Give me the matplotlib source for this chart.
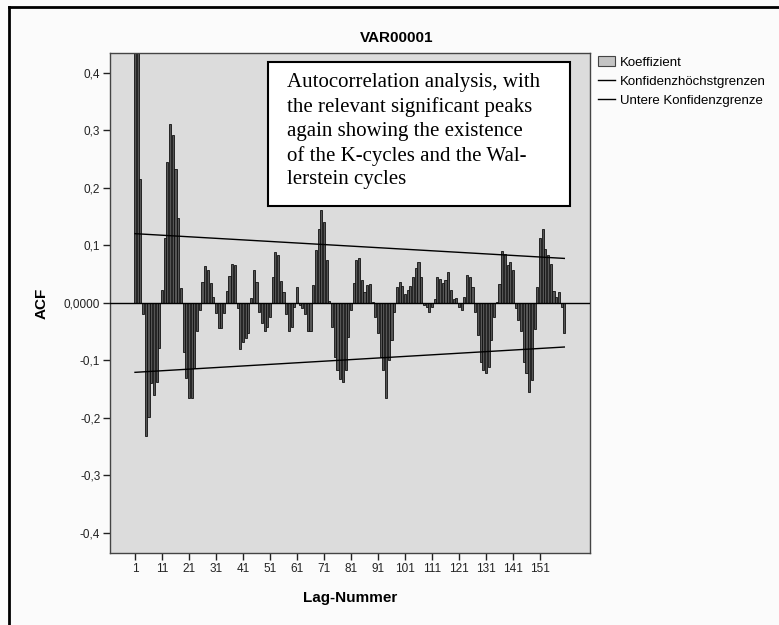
import matplotlib
matplotlib.use("Agg")
import matplotlib.pyplot as plt
from matplotlib.patches import Rectangle, Patch
from matplotlib.lines import Line2D

# ACF-Werte, Lag 1..160
acf = [0.80, 0.55, 0.215, -0.02, -0.232, -0.198, -0.140, -0.160, -0.137, -0.078,
       0.022, 0.112, 0.245, 0.310, 0.292, 0.232, 0.147, 0.026, -0.085, -0.130,
       -0.165, -0.165, -0.114, -0.050, -0.013, 0.036, 0.063, 0.056, 0.035, 0.010,
       -0.018, -0.044, -0.044, -0.018, 0.020, 0.047, 0.067, 0.066, -0.010, -0.080,
       -0.068, -0.062, -0.053, 0.008, 0.056, 0.036, -0.016, -0.036, -0.050, -0.042,
       -0.024, 0.045, 0.089, 0.083, 0.037, 0.019, -0.019, -0.050, -0.042, -0.007,
       0.028, -0.004, -0.010, -0.019, -0.050, -0.050, 0.031, 0.092, 0.128, 0.161,
       0.141, 0.074, 0.003, -0.042, -0.094, -0.117, -0.132, -0.137, -0.117, -0.059,
       -0.013, 0.034, 0.074, 0.077, 0.039, 0.019, 0.031, 0.032, 0.002, -0.024,
       -0.053, -0.094, -0.117, -0.165, -0.100, -0.065, -0.017, 0.028, 0.036, 0.029,
       0.015, 0.022, 0.029, 0.045, 0.061, 0.070, 0.044, -0.004, -0.007, -0.016,
       -0.007, 0.006, 0.044, 0.041, 0.035, 0.040, 0.053, 0.022, 0.006, 0.008,
       -0.007, -0.013, 0.010, 0.049, 0.044, 0.028, -0.016, -0.056, -0.103, -0.117,
       -0.123, -0.111, -0.065, -0.024, 0.002, 0.032, 0.090, 0.085, 0.066, 0.071,
       0.056, -0.010, -0.030, -0.050, -0.103, -0.123, -0.155, -0.134, -0.045, 0.028,
       0.112, 0.128, 0.094, 0.083, 0.068, 0.020, 0.010, 0.019, -0.007, -0.053]
lags = list(range(1, len(acf) + 1))

# Konfidenzgrenzen (Anfang/Ende)
conf_lags = [1, 160]
conf_upper = [0.120, 0.077]
conf_lower = [-0.121, -0.077]

xtick_vals = list(range(1, 152, 10))
ytick_vals = [0.4, 0.3, 0.2, 0.1, 0.0, -0.1, -0.2, -0.3, -0.4]
ytick_labels = ['0,4', '0,3', '0,2', '0,1', '0,0000', '-0,1', '-0,2', '-0,3', '-0,4']

note_lines = ["Autocorrelation analysis, with",
              "the relevant significant peaks",
              "again showing the existence",
              "of the K-cycles and the Wal-",
              "lerstein cycles"]

W, H = 779, 625
plt.rcParams['font.family'] = ['Liberation Sans', 'DejaVu Sans']

fig = plt.figure(figsize=(W / 100, H / 100), dpi=100)
fig.patch.set_facecolor('#fbfbfb')

# Achsen: 110..590 px horizontal, 53..553 px vertikal
ax = fig.add_axes([110 / W, 1 - 553 / H, 480 / W, 500 / H])
ax.set_facecolor('#dcdcdc')

ax.bar(lags, acf, width=0.8, color='#555555', edgecolor='#111111', linewidth=0.6, zorder=2)
ax.axhline(0, color='black', linewidth=1.0, zorder=3)
ax.plot(conf_lags, conf_upper, color='black', linewidth=1.0, zorder=4)
ax.plot(conf_lags, conf_lower, color='black', linewidth=1.0, zorder=4)

ax.set_xlim(1 - 25 / 2.7, 1 + 455 / 2.7)
ax.set_ylim(-0.435, 0.434)

ax.set_xticks(xtick_vals)
ax.set_xticklabels([str(v) for v in xtick_vals], fontsize=8.5, color='#222222')
ax.set_yticks(ytick_vals)
ax.set_yticklabels(ytick_labels, fontsize=8.5, color='#222222')
ax.tick_params(axis='both', direction='out', length=5, width=1, color='#222222', pad=2)

for s in ax.spines.values():
    s.set_color('#444444')
    s.set_linewidth(1.0)

ax.set_xlabel('Lag-Nummer', fontsize=11, fontweight='bold', labelpad=12)
ax.set_ylabel('ACF', fontsize=11, fontweight='bold', labelpad=11)

fig.text(397 / W, 1 - 38 / H, 'VAR00001', ha='center', va='center',
         fontsize=11, fontweight='bold')

# Legende
handles = [Patch(facecolor='#c4c4c4', edgecolor='#444444', linewidth=0.8),
           Line2D([0], [0], color='black', linewidth=1.0),
           Line2D([0], [0], color='black', linewidth=1.0)]
labels = ['Koeffizient', 'Konfidenzhöchstgrenzen', 'Untere Konfidenzgrenze']
fig.legend(handles, labels, loc='upper left', bbox_to_anchor=(598 / W, 1 - 56 / H),
           frameon=False, fontsize=9.5, handlelength=1.3, handleheight=0.8,
           handletextpad=0.35, labelspacing=0.5, borderaxespad=0, borderpad=0)

# Textkasten
fig.add_artist(Rectangle((268 / W, 1 - 206 / H), 302 / W, 144 / H,
                         transform=fig.transFigure, facecolor='white',
                         edgecolor='black', linewidth=1.5, zorder=5))
for i, line in enumerate(note_lines):
    fig.text(287 / W, 1 - (83 + 24.2 * i) / H, line, ha='left', va='center',
             fontsize=15, family='Liberation Serif', zorder=6)

# äußerer Rahmen
fig.add_artist(Line2D([9 / W, 9 / W], [0, 1 - 7 / H], transform=fig.transFigure,
                      color='black', linewidth=2))
fig.add_artist(Line2D([9 / W, 1], [1 - 7 / H, 1 - 7 / H], transform=fig.transFigure,
                      color='black', linewidth=2))

plt.savefig('out.png', dpi=100, facecolor=fig.get_facecolor())
